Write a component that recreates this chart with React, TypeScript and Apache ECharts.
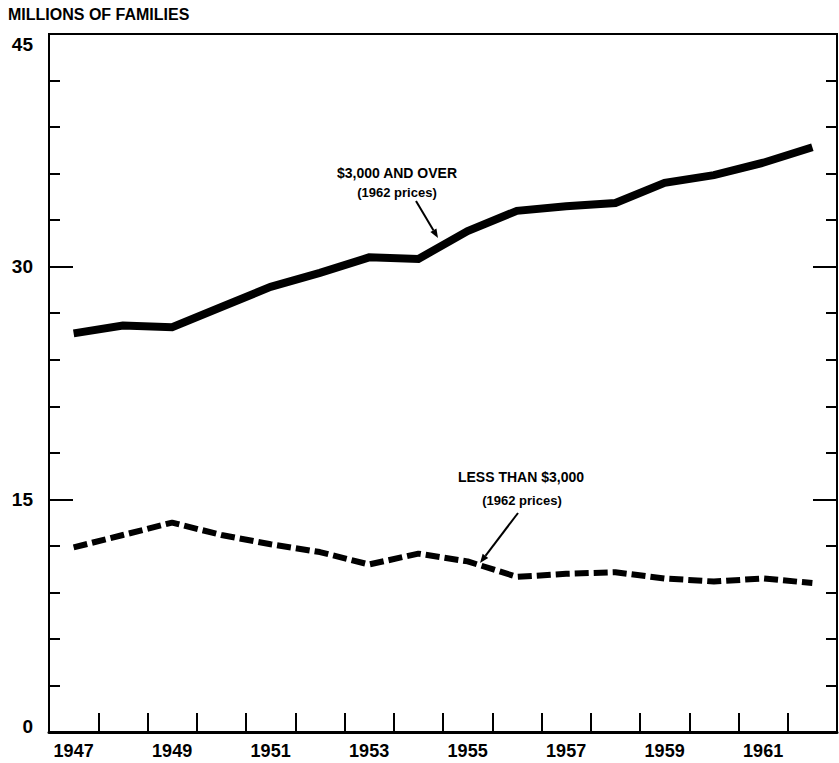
import React, { useEffect, useRef } from "react";
import * as echarts from "echarts";

const years = ["1947", "1948", "1949", "1950", "1951", "1952", "1953", "1954", "1955", "1956", "1957", "1958", "1959", "1960", "1961", "1962"];
const over3000 = [25.7, 26.2, 26.1, 27.4, 28.7, 29.6, 30.6, 30.5, 32.3, 33.6, 33.9, 34.1, 35.4, 35.9, 36.7, 37.7];
const under3000 = [11.9, 12.7, 13.5, 12.7, 12.1, 11.6, 10.8, 11.5, 11.0, 10.0, 10.2, 10.3, 9.9, 9.7, 9.9, 9.6];
const yMajorLabels = [0, 15, 30, 45];

const FONT = "Liberation Sans";

function arrow(x1: number, y1: number, x2: number, y2: number) {
  const dx = x2 - x1, dy = y2 - y1;
  const len = Math.sqrt(dx * dx + dy * dy);
  const ux = dx / len, uy = dy / len;
  const px = -uy, py = ux;
  const hl = 9, hw = 3.5;
  const bx = x2 - hl * ux, by = y2 - hl * uy;
  return [
    { type: "line", shape: { x1, y1, x2: bx, y2: by }, style: { stroke: "#000", lineWidth: 2 } },
    {
      type: "polygon",
      shape: { points: [[x2, y2], [bx + hw * px, by + hw * py], [bx - hw * px, by - hw * py]] },
      style: { fill: "#000" },
    },
  ];
}

export default function App() {
  const ref = useRef<HTMLDivElement>(null);
  useEffect(() => {
    document.body.style.margin = "0";
    const chart = echarts.init(ref.current!, null, { renderer: "svg" });
    const yBase = { type: "value", min: 0, max: 45, splitLine: { show: false } };
    const labelFont = { color: "#000", fontFamily: FONT, fontWeight: "bold", fontSize: 19 };
    chart.setOption({
      animation: false,
      backgroundColor: "#fff",
      grid: { left: 49, right: 2, top: 34, bottom: 31, show: true, borderColor: "#000", borderWidth: 2 },
      xAxis: {
        type: "category",
        data: years,
        boundaryGap: true,
        axisLine: { show: true, lineStyle: { color: "#000", width: 3 } },
        axisTick: { show: true, inside: true, length: 19, interval: 0, lineStyle: { color: "#000", width: 2 } },
        axisLabel: { interval: 1, color: "#000", fontFamily: FONT, fontWeight: "bold", fontSize: 18, margin: 10 },
      },
      yAxis: [
        {
          ...yBase, position: "left", interval: 3,
          axisLine: { show: true, lineStyle: { color: "#000", width: 2 } },
          axisTick: { show: true, inside: true, length: 11, lineStyle: { color: "#000", width: 2 } },
          axisLabel: { show: false },
        },
        {
          ...yBase, position: "left", interval: 15,
          axisLine: { show: false },
          axisTick: { show: true, inside: true, length: 24, lineStyle: { color: "#000", width: 2 } },
          axisLabel: {
            ...labelFont, margin: 16,
            formatter: (v: number) => {
              if (!yMajorLabels.includes(v)) return "";
              if (v === 45) return "{top|45}";
              if (v === 0) return "{bot|0}";
              return String(v);
            },
            rich: {
              top: { ...labelFont, padding: [20, 0, 0, 0] },
              bot: { ...labelFont, padding: [0, 0, 12, 0] },
            },
          },
        },
        {
          ...yBase, position: "right", interval: 3,
          axisLine: { show: true, lineStyle: { color: "#000", width: 2 } },
          axisTick: { show: true, inside: true, length: 11, lineStyle: { color: "#000", width: 2 } },
          axisLabel: { show: false },
        },
        {
          ...yBase, position: "right", interval: 15,
          axisLine: { show: false },
          axisTick: { show: true, inside: true, length: 24, lineStyle: { color: "#000", width: 2 } },
          axisLabel: { show: false },
        },
      ],
      series: [
        {
          name: "$3,000 AND OVER",
          type: "line",
          data: over3000,
          symbol: "none",
          lineStyle: { color: "#000", width: 8, cap: "butt", join: "miter" },
        },
        {
          name: "LESS THAN $3,000",
          type: "line",
          data: under3000,
          symbol: "none",
          lineStyle: { color: "#000", width: 6, type: [14, 5], cap: "butt" },
        },
      ],
      graphic: [
        {
          type: "text", left: 8, top: 6,
          style: { text: "MILLIONS OF FAMILIES", fill: "#000", font: `bold 16px "${FONT}"` },
        },
        {
          type: "text", x: 397, y: 173,
          style: { text: "$3,000 AND OVER", fill: "#000", font: `bold 14px "${FONT}"`, align: "center", verticalAlign: "middle" },
        },
        {
          type: "text", x: 397, y: 192,
          style: { text: "(1962 prices)", fill: "#000", font: `bold 13px "${FONT}"`, align: "center", verticalAlign: "middle" },
        },
        ...arrow(416, 201, 438, 238),
        {
          type: "text", x: 521, y: 477,
          style: { text: "LESS THAN $3,000", fill: "#000", font: `bold 14px "${FONT}"`, align: "center", verticalAlign: "middle" },
        },
        {
          type: "text", x: 522, y: 500,
          style: { text: "(1962 prices)", fill: "#000", font: `bold 13px "${FONT}"`, align: "center", verticalAlign: "middle" },
        },
        ...arrow(518, 513, 480, 563),
      ],
    });
    return () => chart.dispose();
  }, []);
  return <div ref={ref} style={{ width: 839, height: 763 }} />;
}
